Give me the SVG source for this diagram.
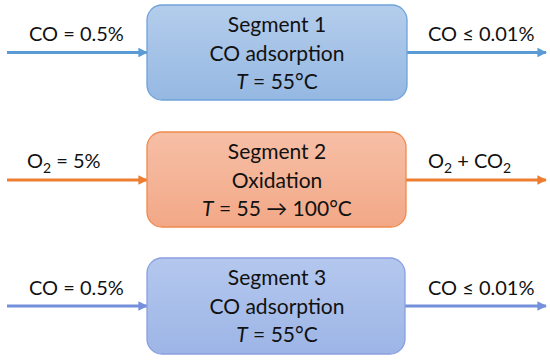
<svg xmlns="http://www.w3.org/2000/svg" width="550" height="360" viewBox="0 0 550 360">
<defs>
<linearGradient id="gBlue" x1="0" y1="0" x2="0" y2="1">
<stop offset="0" stop-color="#b4cdec"/><stop offset="1" stop-color="#95b8e2"/>
</linearGradient>
<linearGradient id="gOrange" x1="0" y1="0" x2="0" y2="1">
<stop offset="0" stop-color="#f7bfa6"/><stop offset="1" stop-color="#f2a887"/>
</linearGradient>
<linearGradient id="gPurple" x1="0" y1="0" x2="0" y2="1">
<stop offset="0" stop-color="#b4c8ee"/><stop offset="1" stop-color="#9db5e6"/>
</linearGradient>
<marker id="aBlue" viewBox="0 0 10 10" refX="9" refY="5" markerWidth="3.2" markerHeight="3.2" orient="auto" markerUnits="strokeWidth"><path d="M0,0 L10,5 L0,10 z" fill="#5b9bd5"/></marker>
<marker id="aOrange" viewBox="0 0 10 10" refX="9" refY="5" markerWidth="3.2" markerHeight="3.2" orient="auto" markerUnits="strokeWidth"><path d="M0,0 L10,5 L0,10 z" fill="#ed7d31"/></marker>
<marker id="aPurple" viewBox="0 0 10 10" refX="9" refY="5" markerWidth="3.2" markerHeight="3.2" orient="auto" markerUnits="strokeWidth"><path d="M0,0 L10,5 L0,10 z" fill="#7490dc"/></marker>
</defs>
<style>
text{font-family:"Lato","Open Sans","Liberation Sans",sans-serif;font-size:21px;fill:#111}
.c{text-anchor:middle}
.lbl{font-size:20px}
.box{stroke-width:1.3}
.ln{fill:none;stroke-width:3}
.sub{font-size:14px}
</style>
<rect width="550" height="360" fill="#fff"/>
<g id="connectors">
<line class="ln" x1="7" y1="52.5" x2="147" y2="52.5" stroke="#5b9bd5" marker-end="url(#aBlue)"/>
<line class="ln" x1="407" y1="52.5" x2="546" y2="52.5" stroke="#5b9bd5" marker-end="url(#aBlue)"/>
<line class="ln" x1="7" y1="180" x2="147" y2="180" stroke="#ed7d31" marker-end="url(#aOrange)"/>
<line class="ln" x1="406" y1="180" x2="546" y2="180" stroke="#ed7d31" marker-end="url(#aOrange)"/>
<line class="ln" x1="7" y1="306" x2="147" y2="306" stroke="#7490dc" marker-end="url(#aPurple)"/>
<line class="ln" x1="405" y1="306" x2="546" y2="306" stroke="#7490dc" marker-end="url(#aPurple)"/>
<text class="lbl" x="29" y="41">CO = 0.5%</text>
<text class="lbl" x="428" y="41">CO ≤ 0.01%</text>
<text class="lbl" x="27" y="168">O<tspan class="sub" dy="5">2</tspan><tspan dy="-5"> = 5%</tspan></text>
<text class="lbl" x="428" y="168">O<tspan class="sub" dy="5">2</tspan><tspan dy="-5"> + CO</tspan><tspan class="sub" dy="5">2</tspan></text>
<text class="lbl" x="29" y="295">CO = 0.5%</text>
<text class="lbl" x="428" y="295">CO ≤ 0.01%</text>
</g>
<g id="segment1">
<rect class="box" x="147" y="5" width="260" height="95" rx="15" fill="url(#gBlue)" stroke="#6fa3d9"/>
<text class="c" x="277" y="32">Segment 1</text>
<text class="c" x="277" y="61">CO adsorption</text>
<text class="c" x="277" y="89"><tspan font-style="italic">T</tspan> = 55°C</text>
</g>
<g id="segment2">
<rect class="box" x="147" y="132" width="259" height="95" rx="15" fill="url(#gOrange)" stroke="#f08a4c"/>
<text class="c" x="277" y="159">Segment 2</text>
<text class="c" x="277" y="188">Oxidation</text>
<text class="c" x="277" y="216"><tspan font-style="italic">T</tspan> = 55 → 100°C</text>
</g>
<g id="segment3">
<rect class="box" x="147" y="258" width="258" height="96" rx="15" fill="url(#gPurple)" stroke="#8a9fe0"/>
<text class="c" x="277" y="285">Segment 3</text>
<text class="c" x="277" y="314">CO adsorption</text>
<text class="c" x="277" y="342"><tspan font-style="italic">T</tspan> = 55°C</text>
</g>
</svg>
